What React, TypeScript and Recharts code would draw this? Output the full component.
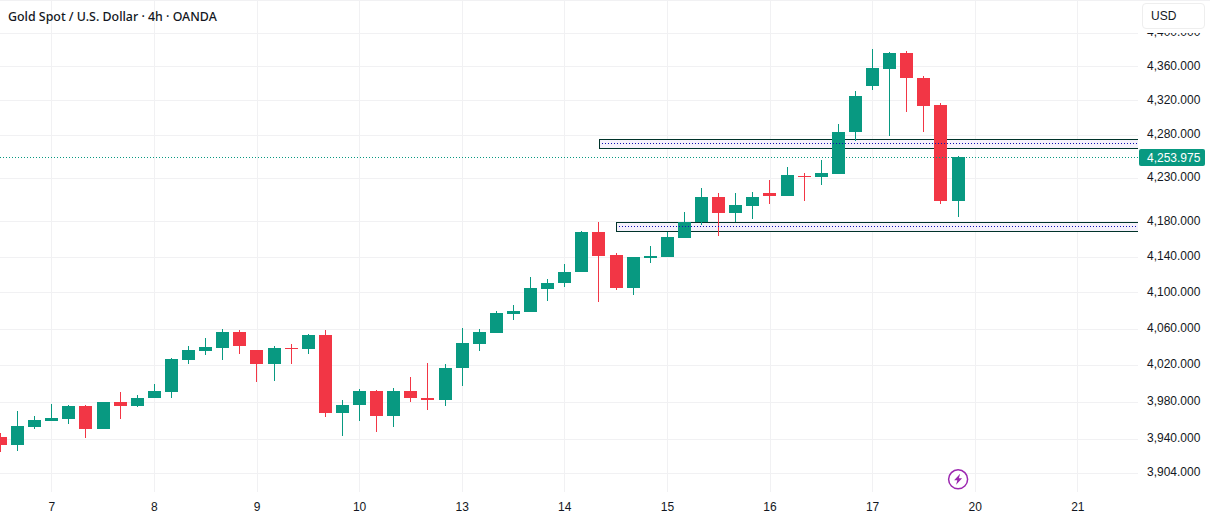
import {
  Bar,
  CartesianGrid,
  ComposedChart,
  ReferenceArea,
  ReferenceDot,
  ReferenceLine,
  XAxis,
  YAxis,
} from 'recharts'

const UP = '#089981'
const DOWN = '#F23645'
const FONT = '"Liberation Sans", Arial, sans-serif'
const TEXT = '#131722'
const GRID = '#f1f1f3'

const opens = [
  3942, 3934, 3953, 3959.5, 3962, 3976, 3951, 3980, 3976, 3985, 3991, 4026, 4036, 4039, 4057, 4037, 4022, 4039, 4038,
  4053, 3968, 3977, 3992, 3965, 3992, 3985, 3982, 4017, 4043, 4056, 4077, 4079, 4104, 4111, 4123, 4169, 4143, 4106,
  4139, 4140, 4162, 4180, 4208, 4190, 4198, 4213, 4210, 4233, 4232, 4235, 4283, 4337, 4358, 4377, 4347, 4315, 4204,
]
const highs = [
  3946.5, 3970, 3965, 3978, 3977, 3977, 3980, 3991, 3988, 3999.5, 4028, 4041, 4050, 4060, 4059, 4037, 4041, 4043, 4054.5,
  4059, 3982, 3994, 3993, 3995, 4007, 4023, 4021, 4061, 4060, 4080, 4087, 4118, 4116, 4132, 4170, 4180, 4145, 4140,
  4153, 4169, 4191, 4219, 4213, 4213, 4214, 4228, 4243, 4236, 4251, 4293, 4332, 4381.5, 4378, 4379, 4349, 4318, 4255.5,
]
const lows = [
  3926, 3927, 3951, 3959.5, 3956, 3941, 3951, 3962, 3975, 3985, 3984, 4021, 4031, 4026, 4032, 4002, 4003, 4022, 4033,
  3964, 3944, 3959.5, 3948, 3953, 3980, 3971, 3976, 3998, 4036, 4056, 4070, 4079, 4091, 4107, 4123, 4090, 4103, 4098,
  4134, 4140, 4162, 4177, 4164, 4180, 4183, 4200, 4210, 4204, 4222, 4235, 4273, 4333, 4279, 4307, 4283.5, 4200.5, 4186,
]
const closes = [
  3934, 3954, 3960.5, 3963, 3976, 3951, 3980, 3976, 3984, 3992, 4027, 4037, 4040, 4057, 4041, 4022, 4039, 4038, 4053,
  3968, 3977, 3992, 3965, 3992, 3984, 3982, 4017, 4044.5, 4057, 4078, 4080, 4106, 4111, 4124, 4169, 4142, 4106, 4140,
  4142, 4163, 4180, 4208, 4190, 4199, 4208, 4210, 4233.5, 4232, 4236, 4283.5, 4326, 4359, 4377, 4347, 4314, 4204,
  4253.975,
]

const priceTicks = [3904, 3940, 3980, 4020, 4060, 4100, 4140, 4180, 4230, 4280, 4320, 4360, 4400]
const dayTicks = [3, 9, 15, 21, 27, 33, 39, 45, 51, 57, 63]
const dayLabels = ['7', '8', '9', '10', '13', '14', '15', '16', '17', '20', '21']

const lastPrice = 4253.975
const flashPrice = 3897.3
const flashCandle = 56

const upperZone = { from: 35, top: 4274.83, mid: 4270.19, bottom: 4264.38 }
const lowerZone = { from: 36, top: 4179.38, mid: 4174.84, bottom: 4169.16 }

const xDomain: [number, number] = [-0.0292, 66.52]
const yDomain: [number, number] = [3883.9, 4440.2]

const candles = opens.map((open, i) => ({
  i,
  open,
  high: highs[i],
  low: lows[i],
  close: closes[i],
  wick: [lows[i], highs[i]],
  body: [Math.min(open, closes[i]), Math.max(open, closes[i])],
}))

const candleColor = (c: { open: number; close: number }) => (c.close >= c.open ? UP : DOWN)

// snap to whole pixels so candles stay sharp like the original
const CandleRect = (props: any) => {
  const { x, y, width, height, payload } = props
  const centre = Math.floor(x + width / 2)
  const top = Math.round(y)
  const bottom = Math.round(y + height)
  return (
    <rect
      x={centre + 0.5 - width / 2}
      y={top}
      width={width}
      height={Math.max(bottom - top, 1)}
      fill={candleColor(payload)}
      shapeRendering='crispEdges'
    />
  )
}

const PriceTick = (props: any) => {
  const { y, payload } = props
  return (
    <text x={1147} y={y - 1.5} dy='0.355em' fontSize={12} fontFamily={FONT} fill={TEXT}>
      {payload.value.toLocaleString('en-US', { minimumFractionDigits: 3 })}
    </text>
  )
}

const DayTick = (props: any) => {
  const { x, y, payload } = props
  return (
    <text x={x} y={y} dy='0.355em' textAnchor='middle' fontSize={12} fontFamily={FONT} fill={TEXT}>
      {dayLabels[dayTicks.indexOf(payload.value)]}
    </text>
  )
}

const PriceTag = (props: any) => {
  const y = props.viewBox.y
  return (
    <g>
      <rect x={1139} y={y - 8.5} width={66} height={17} rx={2} fill={UP} />
      <text x={1147} y={y} dy='0.355em' fontSize={12} fontFamily={FONT} fill='#ffffff'>
        {lastPrice.toLocaleString('en-US', { minimumFractionDigits: 3 })}
      </text>
    </g>
  )
}

const FlashIcon = (props: any) => {
  const { cx, cy } = props
  return (
    <g>
      <circle cx={cx} cy={cy} r={9.5} fill='#ffffff' stroke='#9c27b0' strokeWidth={1.5} />
      <path
        transform={`translate(${cx} ${cy})`}
        d='M2 -5.5 L-4 1 L-0.8 1 L-2 5.5 L4 -1 L0.8 -1 Z'
        fill='#9c27b0'
      />
    </g>
  )
}

export default function App() {
  return (
    <div style={{ position: 'absolute', left: 0, top: 0, width: 1210, height: 520, background: '#fff' }}>
      <ComposedChart width={1210} height={520} data={candles} margin={{ top: 0, right: 0, bottom: 0, left: 0 }}>
        <CartesianGrid stroke={GRID} syncWithTicks shapeRendering='crispEdges' />
        <XAxis
          dataKey='i'
          type='number'
          domain={xDomain}
          ticks={dayTicks}
          interval={0}
          height={28}
          tick={<DayTick />}
          tickLine={false}
          axisLine={false}
          tickMargin={9}
          allowDataOverflow
        />
        <XAxis xAxisId='wick' dataKey='i' type='number' domain={xDomain} hide allowDataOverflow />
        <YAxis
          orientation='right'
          type='number'
          scale='log'
          domain={yDomain}
          ticks={priceTicks}
          interval={0}
          width={72}
          tick={<PriceTick />}
          tickLine={false}
          axisLine={false}
          allowDataOverflow
        />
        <ReferenceArea
          x1={upperZone.from}
          x2={68}
          y1={upperZone.bottom}
          y2={upperZone.top}
          ifOverflow='hidden'
          fill='#f5f1fb'
          fillOpacity={1}
          stroke='#00332a'
          strokeWidth={1}
          shapeRendering='crispEdges'
        />
        <ReferenceLine
          segment={[
            { x: upperZone.from + 0.15, y: upperZone.mid },
            { x: xDomain[1], y: upperZone.mid },
          ]}
          stroke='#0f0fb4'
          strokeDasharray='1 2'
          shapeRendering='crispEdges'
        />
        <ReferenceArea
          x1={lowerZone.from}
          x2={68}
          y1={lowerZone.bottom}
          y2={lowerZone.top}
          ifOverflow='hidden'
          fill='#f5f1fb'
          fillOpacity={1}
          stroke='#00332a'
          strokeWidth={1}
          shapeRendering='crispEdges'
        />
        <ReferenceLine
          segment={[
            { x: lowerZone.from + 0.15, y: lowerZone.mid },
            { x: xDomain[1], y: lowerZone.mid },
          ]}
          stroke='#0f0fb4'
          strokeDasharray='1 2'
          shapeRendering='crispEdges'
        />
        <Bar xAxisId='wick' dataKey='wick' barSize={1} isAnimationActive={false} shape={<CandleRect />} />
        <Bar dataKey='body' barSize={13} isAnimationActive={false} shape={<CandleRect />} />
        <ReferenceLine y={lastPrice} stroke={UP} strokeDasharray='1 2' shapeRendering='crispEdges' label={<PriceTag />} />
        <ReferenceDot x={flashCandle} y={flashPrice} shape={<FlashIcon />} />
      </ComposedChart>
      <div style={{ position: 'absolute', left: 0, top: 0, width: 1210, height: 1, background: GRID }} />
      <div
        style={{
          position: 'absolute',
          left: 8,
          top: 8,
          font: `500 12.4px/18px "Noto Sans", sans-serif`,
          color: TEXT,
        }}
      >
        Gold Spot / U.S. Dollar · 4h · OANDA
      </div>
      <div style={{ position: 'absolute', left: 1139, top: 1, width: 71, height: 32, background: '#fff' }} />
      <div
        style={{
          position: 'absolute',
          left: 1142,
          top: 3,
          width: 63,
          height: 26,
          boxSizing: 'border-box',
          border: '1px solid #eeeeee',
          borderRadius: 4,
          background: '#fff',
          font: `12px/25px ${FONT}`,
          color: TEXT,
          paddingLeft: 8,
        }}
      >
        USD
      </div>
    </div>
  )
}
